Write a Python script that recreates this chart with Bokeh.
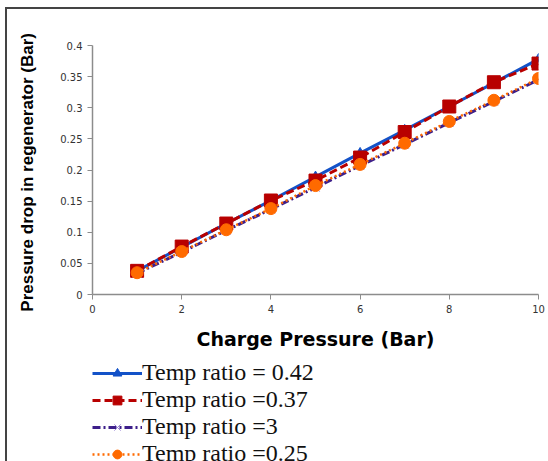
from bokeh.plotting import figure
from bokeh.layouts import column
from bokeh.models import Legend, LegendItem, Range1d, FixedTicker
from bokeh.embed import file_html
from bokeh.resources import INLINE

charge_pressure = [1, 2, 3, 4, 5, 6, 7, 8, 9, 10]
tr_042 = [0.038, 0.076, 0.114, 0.151, 0.189, 0.227, 0.264, 0.302, 0.340, 0.378]
tr_037 = [0.038, 0.077, 0.114, 0.151, 0.183, 0.220, 0.261, 0.302, 0.341, 0.371]
tr_3 = [0.034, 0.068, 0.103, 0.137, 0.172, 0.207, 0.241, 0.276, 0.310, 0.345]
tr_025 = [0.035, 0.069, 0.104, 0.138, 0.175, 0.209, 0.243, 0.278, 0.312, 0.347]
labels = ["Temp ratio = 0.42", "Temp ratio =0.37", "Temp ratio =3", "Temp ratio =0.25"]
x_ticks = [0, 2, 4, 6, 8, 10]
y_ticks = [0, 0.05, 0.1, 0.15, 0.2, 0.25, 0.3, 0.35, 0.4]

blue, red, purple, orange = "#1352c8", "#b80000", "#3d1f8a", "#ff6a00"
styles = [
    dict(line=dict(line_color=blue, line_width=3),
         mark=dict(marker="triangle", size=10, color=blue)),
    dict(line=dict(line_color=red, line_width=3, line_dash="8 4"),
         mark=dict(marker="square", size=13, color=red)),
    dict(line=dict(line_color=purple, line_width=3, line_dash="8 3 2 3"),
         mark=dict(marker="x", size=12, line_color="#9d88d8", line_width=1)),
    dict(line=dict(line_color=orange, line_width=2.5, line_dash="2 3"),
         mark=dict(marker="circle", size=12, color=orange)),
]
series = [tr_042, tr_037, tr_3, tr_025]

p = figure(width=541, height=350, output_backend="svg", toolbar_location=None,
           x_range=Range1d(0, 10), y_range=Range1d(0, 0.4),
           min_border_left=85, min_border_right=10, min_border_top=36,
           min_border_bottom=65)
p.outline_line_color = None
p.grid.visible = False

for ax in (p.xaxis[0], p.yaxis[0]):
    ax.axis_line_color = "#8c8c8c"
    ax.axis_line_width = 1.5
    ax.major_tick_line_color = "#8c8c8c"
    ax.major_tick_out = 5
    ax.major_tick_in = 0
    ax.minor_tick_line_color = None
    ax.major_label_text_font = "DejaVu Sans"
    ax.major_label_text_font_size = "10px"
    ax.major_label_text_color = "#333333"
    ax.axis_label_text_font_style = "bold"
    ax.axis_label_text_color = "#000000"

p.xaxis.ticker = FixedTicker(ticks=x_ticks)
p.yaxis.ticker = FixedTicker(ticks=y_ticks)
p.xaxis.axis_label = "Charge Pressure (Bar)"
p.xaxis.axis_label_text_font = "DejaVu Sans"
p.xaxis.axis_label_text_font_size = "19px"
p.xaxis.axis_label_standoff = 12
p.yaxis.axis_label = "Pressure drop in regenerator  (Bar)"
p.yaxis.axis_label_text_font = "Liberation Sans"
p.yaxis.axis_label_text_font_size = "17px"
p.yaxis.axis_label_standoff = 20

for ys, st in zip(series, styles):
    p.line(charge_pressure, ys, **st["line"])
    p.scatter(charge_pressure, ys, **st["mark"])

# legend panel below the chart (its own ranges keep the series out of view;
# only the legend entries are shown)
q = figure(width=541, height=102, output_backend="svg", toolbar_location=None,
           x_range=Range1d(100, 101), y_range=Range1d(100, 101),
           x_axis_type=None, y_axis_type=None,
           min_border_left=81, min_border_right=0, min_border_top=0,
           min_border_bottom=0)
q.outline_line_color = None
q.grid.visible = False
items = []
for lab, ys, st in zip(labels, series, styles):
    lr = q.line(charge_pressure, ys, **st["line"])
    mr = q.scatter(charge_pressure, ys, **st["mark"])
    items.append(LegendItem(label=lab, renderers=[lr, mr]))

legend = Legend(items=items, location="top_left", orientation="vertical")
legend.label_text_font = "Liberation Serif"
legend.label_text_font_size = "24px"
legend.label_text_color = "#111111"
legend.glyph_width = 50
legend.glyph_height = 22
legend.label_height = 22
legend.label_standoff = 0
legend.spacing = -3
legend.padding = 0
legend.margin = 0
legend.border_line_color = None
legend.background_fill_alpha = 0
q.add_layout(legend, "center")

layout = column(p, q, spacing=0,
                styles={"margin-left": "5px", "margin-top": "7px",
                        "border-left": "2px solid #444444",
                        "border-top": "2px solid #444444"})

open("out.html", "w").write(file_html(layout, INLINE))
